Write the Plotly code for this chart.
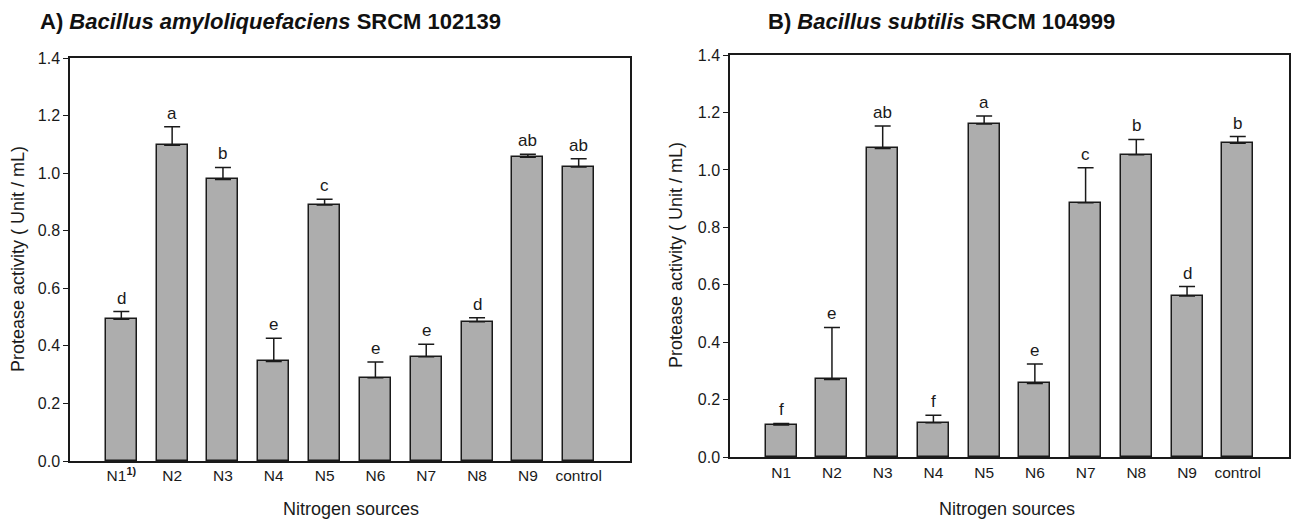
import plotly.graph_objects as go

categories = ["N1", "N2", "N3", "N4", "N5", "N6", "N7", "N8", "N9", "control"]
tick_labels_a = ["N1<sup><b>1)</b></sup>", "N2", "N3", "N4", "N5", "N6", "N7", "N8", "N9", "control"]
tick_labels_b = ["N1", "N2", "N3", "N4", "N5", "N6", "N7", "N8", "N9", "control"]

values_a = [0.492, 1.097, 0.978, 0.346, 0.889, 0.289, 0.362, 0.484, 1.055, 1.021]
errors_a = [0.027, 0.064, 0.042, 0.080, 0.020, 0.055, 0.044, 0.014, 0.011, 0.029]
letters_a = ["d", "a", "b", "e", "c", "e", "e", "d", "ab", "ab"]

values_b = [0.112, 0.271, 1.075, 0.120, 1.160, 0.257, 0.886, 1.053, 0.561, 1.093]
errors_b = [0.006, 0.181, 0.078, 0.026, 0.028, 0.068, 0.122, 0.053, 0.033, 0.023]
letters_b = ["f", "e", "ab", "f", "a", "e", "c", "b", "d", "b"]

y_ticks = [0.0, 0.2, 0.4, 0.6, 0.8, 1.0, 1.2, 1.4]

title_a = "A) <i>Bacillus amyloliquefaciens</i> SRCM 102139"
title_b = "B) <i>Bacillus subtilis</i> SRCM 104999"
y_title = "Protease activity ( Unit / mL)"
x_title = "Nitrogen sources"

FONT = "Liberation Sans, Arial, sans-serif"
INK = "#1a1a1a"
BAR = "#adadad"
W, H = 1291, 520

xpos = list(range(len(categories)))

fig = go.Figure()


def add_panel(vals, errs, xa, ya):
    fig.add_trace(go.Bar(
        x=xpos, y=vals, width=0.61,
        marker=dict(color=BAR, line=dict(color=INK, width=1.5)),
        error_y=dict(type="data", symmetric=False, array=errs,
                     arrayminus=[0] * len(errs), color=INK,
                     thickness=1.5, width=8),
        xaxis=xa, yaxis=ya, showlegend=False, hoverinfo="skip",
    ))


add_panel(values_a, errors_a, "x", "y")
add_panel(values_b, errors_b, "x2", "y2")

for vals, errs, lets, xr, yr in [(values_a, errors_a, letters_a, "x", "y"),
                                 (values_b, errors_b, letters_b, "x2", "y2")]:
    for i, (v, e, t) in enumerate(zip(vals, errs, lets)):
        fig.add_annotation(x=xpos[i], y=v + e, xref=xr, yref=yr, text=t,
                           showarrow=False, yanchor="bottom", yshift=2,
                           font=dict(family=FONT, size=17, color=INK))


def px_x(p):
    return p / W


def px_y(p):
    return (H - p) / H


axis_common = dict(showline=True, mirror=True, linecolor=INK, linewidth=1.5,
                   showgrid=False, zeroline=False, automargin=False)

fig.update_layout(
    width=W, height=H,
    margin=dict(l=0, r=0, t=0, b=0, autoexpand=False),
    paper_bgcolor="white", plot_bgcolor="white",
    font=dict(family=FONT, color=INK),
    bargap=0,
    xaxis=dict(domain=[px_x(70), px_x(630)], range=[-1.01, 10.01],
               tickvals=xpos, ticktext=tick_labels_a, ticks="",
               tickfont=dict(size=15.5, color=INK), anchor="y", **axis_common),
    yaxis=dict(domain=[px_y(461), px_y(58)], range=[0, 1.4],
               tickvals=y_ticks, tickformat=".1f", ticks="outside",
               ticklen=5, tickcolor=INK, tickwidth=1.2,
               tickfont=dict(size=16, color=INK), anchor="x", **axis_common),
    xaxis2=dict(domain=[px_x(730), px_x(1289)], range=[-1.01, 10.01],
                tickvals=xpos, ticktext=tick_labels_b, ticks="",
                tickfont=dict(size=15.5, color=INK), anchor="y2", **axis_common),
    yaxis2=dict(domain=[px_y(457.3), px_y(55)], range=[0, 1.4],
                tickvals=y_ticks, tickformat=".1f", ticks="outside",
                ticklen=5, tickcolor=INK, tickwidth=1.2,
                tickfont=dict(size=16, color=INK), anchor="x2", **axis_common),
)

# Titles
fig.add_annotation(x=px_x(270), y=px_y(22), xref="paper", yref="paper",
                   text="<b>" + title_a + "</b>", showarrow=False,
                   xanchor="center", yanchor="middle",
                   font=dict(family=FONT, size=22, color="#111111"))
fig.add_annotation(x=px_x(941), y=px_y(22), xref="paper", yref="paper",
                   text="<b>" + title_b + "</b>", showarrow=False,
                   xanchor="center", yanchor="middle",
                   font=dict(family=FONT, size=22, color="#111111"))

# Axis titles
fig.add_annotation(x=px_x(17.5), y=px_y(259.5), xref="paper", yref="paper",
                   text=y_title, textangle=-90, showarrow=False,
                   xanchor="center", yanchor="middle",
                   font=dict(family=FONT, size=18, color=INK))
fig.add_annotation(x=px_x(675.5), y=px_y(255.5), xref="paper", yref="paper",
                   text=y_title, textangle=-90, showarrow=False,
                   xanchor="center", yanchor="middle",
                   font=dict(family=FONT, size=18, color=INK))
fig.add_annotation(x=px_x(350.5), y=px_y(509), xref="paper", yref="paper",
                   text=x_title, showarrow=False,
                   xanchor="center", yanchor="middle",
                   font=dict(family=FONT, size=18, color=INK))
fig.add_annotation(x=px_x(1007), y=px_y(509), xref="paper", yref="paper",
                   text=x_title, showarrow=False,
                   xanchor="center", yanchor="middle",
                   font=dict(family=FONT, size=18, color=INK))

fig.write_html("out.html",
               config={"displayModeBar": False},
               post_script="document.body.style.margin='0';"
                           "document.body.style.overflow='hidden';")
